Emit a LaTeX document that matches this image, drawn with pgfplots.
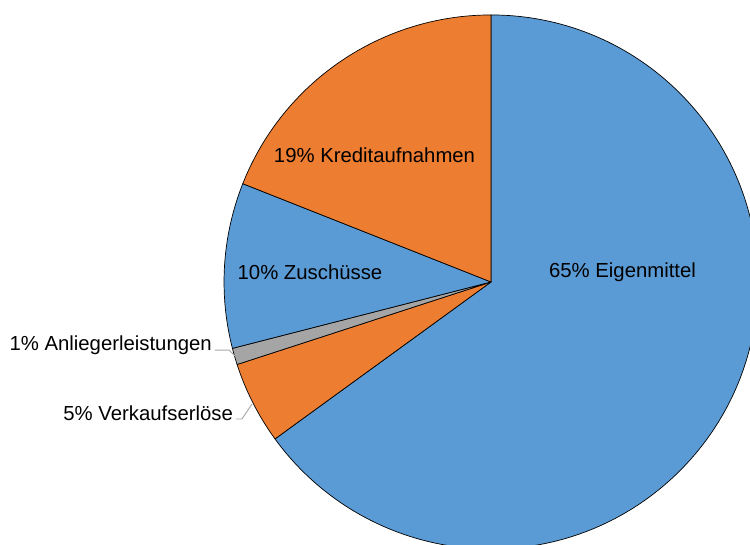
\documentclass[border=0pt]{standalone}
\usepackage{pgfplots}
\usepackage{pgfplotstable}
\usepackage{fontspec}
\setmainfont{Liberation Sans}
\pgfplotsset{compat=1.18}

\definecolor{pieblue}{HTML}{5B9BD5}
\definecolor{pieorange}{HTML}{ED7D31}
\definecolor{piegray}{HTML}{A5A5A5}
\definecolor{leader}{HTML}{A6A6A6}

% shares in percent, clockwise from 12 o'clock
\pgfplotstableread[col sep=comma]{
value,col
65,pieblue
5,pieorange
1,piegray
10,pieblue
19,pieorange
}\pietable

\tikzset{pielabel/.style={font=\fontsize{20.4}{24}\selectfont, text=black}}

\begin{document}
\begin{tikzpicture}
\begin{axis}[
  scale only axis,
  width=750bp, height=545bp,
  xmin=-1.839, xmax=0.970,
  ymin=-0.985, ymax=1.056,
  hide axis,
  clip=true,
]
\pgfmathsetmacro\piecum{0}
\pgfplotsforeachungrouped \i in {0,...,4}{
  \pgfplotstablegetelem{\i}{value}\of\pietable \let\pieval\pgfplotsretval
  \pgfplotstablegetelem{\i}{col}\of\pietable \let\piecol\pgfplotsretval
  \pgfmathsetmacro\piea{90-3.6*\piecum}
  \pgfmathsetmacro\pieb{90-3.6*(\piecum+\pieval)}
  \edef\piecmd{\noexpand\filldraw[fill=\piecol, draw=black, line width=0.7bp, line join=round]
    (axis cs:0,0) -- (axis cs:{cos(\piea)},{sin(\piea)})
    arc[start angle=\piea, end angle=\pieb, radius=1] -- cycle;}
  \piecmd
  \pgfmathsetmacro\piecum{\piecum+\pieval}
}

% leader lines
\addplot[leader, line width=0.9bp, mark=none] coordinates {(-1.034,-0.255) (-0.981,-0.255) (-0.959,-0.277)};
\addplot[leader, line width=0.9bp, mark=none] coordinates {(-0.955,-0.513) (-0.933,-0.513) (-0.895,-0.457)};

\node[pielabel, anchor=base] at (axis cs:0.4925,0.015) {65\% Eigenmittel};
\node[pielabel, anchor=base] at (axis cs:-0.4363,0.4457) {19\% Kreditaufnahmen};
\node[pielabel, anchor=base] at (axis cs:-0.678,0.011) {10\% Zuschüsse};
\node[pielabel, anchor=base east, inner sep=0pt] at (axis cs:-1.045,-0.258) {1\% Anliegerleistungen};
\node[pielabel, anchor=base east, inner sep=0pt] at (axis cs:-0.966,-0.517) {5\% Verkaufserlöse};
\end{axis}
\pgfresetboundingbox
\useasboundingbox (current axis.south west) rectangle (current axis.north east);
\end{tikzpicture}
\end{document}
